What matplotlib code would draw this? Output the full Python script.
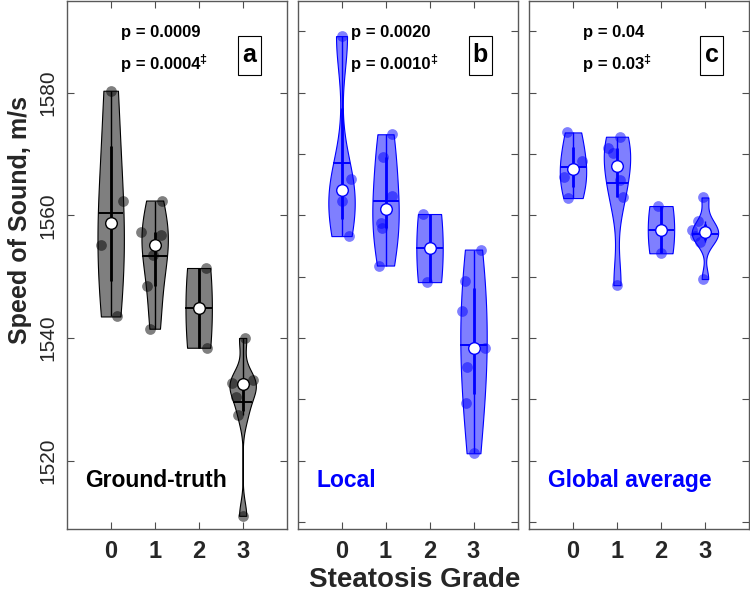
import numpy as np
import matplotlib
matplotlib.use('Agg')
import matplotlib.pyplot as plt
from matplotlib import cbook
from matplotlib.patches import Rectangle

plt.rcParams['font.family'] = ['Liberation Sans', 'DejaVu Sans']

grades = [0, 1, 2, 3]

# speed of sound per steatosis grade
gt_vals = [[1580.3, 1562.4, 1555.1, 1543.5],
           [1562.4, 1557.3, 1556.8, 1553.5, 1548.4, 1541.5],
           [1551.4, 1538.4],
           [1540.0, 1533.2, 1532.6, 1532.5, 1530.4, 1527.4, 1511.0]]
loc_vals = [[1589.2, 1565.9, 1562.3, 1556.6],
            [1573.2, 1569.5, 1563.2, 1558.7, 1558.0, 1551.8],
            [1560.2, 1549.1],
            [1554.4, 1549.3, 1544.4, 1538.4, 1535.2, 1529.4, 1521.2]]
glob_vals = [[1573.5, 1568.9, 1566.3, 1562.8],
             [1572.8, 1570.9, 1570.1, 1565.8, 1563.0, 1548.6],
             [1561.5, 1553.8],
             [1562.9, 1559.0, 1557.6, 1557.2, 1556.6, 1555.7, 1549.6]]

# horizontal jitter of the scatter points
gt_jit = [[0.0, 0.27, -0.21, 0.15],
          [0.17, -0.30, 0.15, -0.04, -0.17, -0.11],
          [0.17, 0.18],
          [0.05, 0.24, -0.25, 0.0, -0.14, -0.10, 0.0]]
loc_jit = [[0.0, 0.21, 0.0, 0.17],
           [0.14, -0.06, 0.15, -0.10, -0.08, -0.15],
           [-0.14, -0.05],
           [0.17, -0.20, -0.26, 0.27, -0.15, -0.18, 0.02]]
glob_jit = [[-0.14, 0.20, -0.21, -0.11],
            [0.06, -0.20, -0.09, 0.06, 0.14, 0.0],
            [-0.06, 0.0],
            [-0.05, -0.15, -0.30, 0.0, -0.23, -0.11, -0.04]]

p_main = ['p = 0.0009', 'p = 0.0020', 'p = 0.04']
p_alt = ['p = 0.0004', 'p = 0.0010', 'p = 0.03']
panel_tags = ['a', 'b', 'c']
panel_names = ['Ground-truth', 'Local', 'Global average']


def ksdensity(data, coords):
    # gaussian kde with the MAD-based Silverman bandwidth
    x = np.asarray(data, float)
    sig = np.median(np.abs(x - np.median(x))) / 0.6745
    if sig <= 0:
        sig = x.max() - x.min()
    bw = sig * (4.0 / (3 * len(x))) ** 0.2
    z = (coords[:, None] - x[None, :]) / bw
    return np.exp(-0.5 * z ** 2).sum(axis=1) / (len(x) * bw * np.sqrt(2 * np.pi))


def mquantile(data, p):
    x = np.sort(np.asarray(data, float))
    n = len(x)
    pos = np.clip(n * p + 0.5, 1, n) - 1
    return np.interp(pos, np.arange(n), x)


fig = plt.figure(figsize=(7.5, 5.94), dpi=100)
lefts = [0.0889, 0.3967, 0.7053]
panels = [(gt_vals, gt_jit, (0, 0, 0)), (loc_vals, loc_jit, (0, 0, 1)), (glob_vals, glob_jit, (0, 0, 1))]
half = 0.3

for k, (vals, jit, col) in enumerate(panels):
    ax = fig.add_axes([lefts[k], 0.1099, 0.2933, 0.8892])
    stats = cbook.violin_stats(vals, ksdensity, points=200)
    parts = ax.violin(stats, positions=grades, widths=2 * half,
                      showmeans=False, showextrema=False, showmedians=False)
    for b in parts['bodies']:
        b.set_alpha(None)
        b.set_facecolor(col + (0.5,))
        b.set_edgecolor(col)
        b.set_linewidth(0.8)
        b.set_zorder(1)

    for g, d, j, st in zip(grades, vals, jit, stats):
        d = np.asarray(d)
        ax.scatter(g + np.asarray(j), d, s=60, color=col, alpha=0.5, lw=0, zorder=2)
        q1, q3 = mquantile(d, 0.25), mquantile(d, 0.75)
        iqr = q3 - q1
        lo = max(q1 - 1.5 * iqr, d[d >= q1 - 1.5 * iqr].min())
        hi = min(q3 + 1.5 * iqr, d[d <= q3 + 1.5 * iqr].max())
        ax.vlines(g, lo, hi, color=col, lw=1.0, zorder=3)
        ax.vlines(g, q1, q3, color=col, lw=2.0, zorder=3)
        m = d.mean()
        w = np.interp(m, st['coords'], st['vals']) * half / st['vals'].max()
        ax.hlines(m, g - w, g + w, color=col, lw=1.4, zorder=3)
        ax.scatter([g], [np.median(d)], s=70, facecolor='white', edgecolor=col,
                   lw=1.0, zorder=4)

    ax.set_xlim(-1, 4)
    ax.set_ylim(1508.9, 1595.0)
    ax.set_xticks(grades)
    ax.set_xticklabels([str(g) for g in grades], fontsize=17, fontweight='bold', color='0.15')
    if k == 0:
        ax.set_yticks([1520, 1540, 1560, 1580])
        ax.set_yticklabels(['1520', '1540', '1560', '1580'], fontsize=15, color='0.15',
                           rotation=90, va='center')
    else:
        ax.set_yticks(np.arange(1510, 1591, 10))
        ax.set_yticklabels([])
    ax.tick_params(direction='in', top=True, right=True, length=5, width=0.8,
                   color='0.3')
    ax.tick_params(axis='x', pad=8)
    ax.tick_params(axis='y', pad=7)
    for s in ax.spines.values():
        s.set_color('0.35')
        s.set_linewidth(1.0)

    ax.text(0.245, 0.94, p_main[k], transform=ax.transAxes, fontsize=12,
            fontweight='bold', ha='left', va='center')
    t = ax.text(0.245, 0.878, p_alt[k], transform=ax.transAxes, fontsize=12,
                fontweight='bold', ha='left', va='center')
    ax.annotate('\u2021', xy=(1, 1), xycoords=t, xytext=(-0.5, -2), textcoords='offset points',
                fontsize=9, fontweight='bold', ha='left', va='center')
    ax.add_patch(Rectangle((0.83 - 0.052, 0.896 - 0.037), 0.104, 0.074,
                           transform=ax.transAxes, fc='white', ec='black', lw=0.8, zorder=5))
    ax.text(0.83, 0.896, panel_tags[k], transform=ax.transAxes, fontsize=18,
            fontweight='bold', ha='center', va='center', zorder=6)
    ax.text(0.085, 0.092, panel_names[k], transform=ax.transAxes, fontsize=16.5,
            fontweight='bold', ha='left', va='center', color=col)

fig.text(0.553, 0.024, 'Steatosis Grade', fontsize=20, fontweight='bold',
         ha='center', va='center', color='0.15')
fig.text(0.027, 0.63, 'Speed of Sound, m/s', fontsize=18, fontweight='bold',
         ha='center', va='center', rotation=90, color='0.15')

fig.savefig('out.png', dpi=100)
